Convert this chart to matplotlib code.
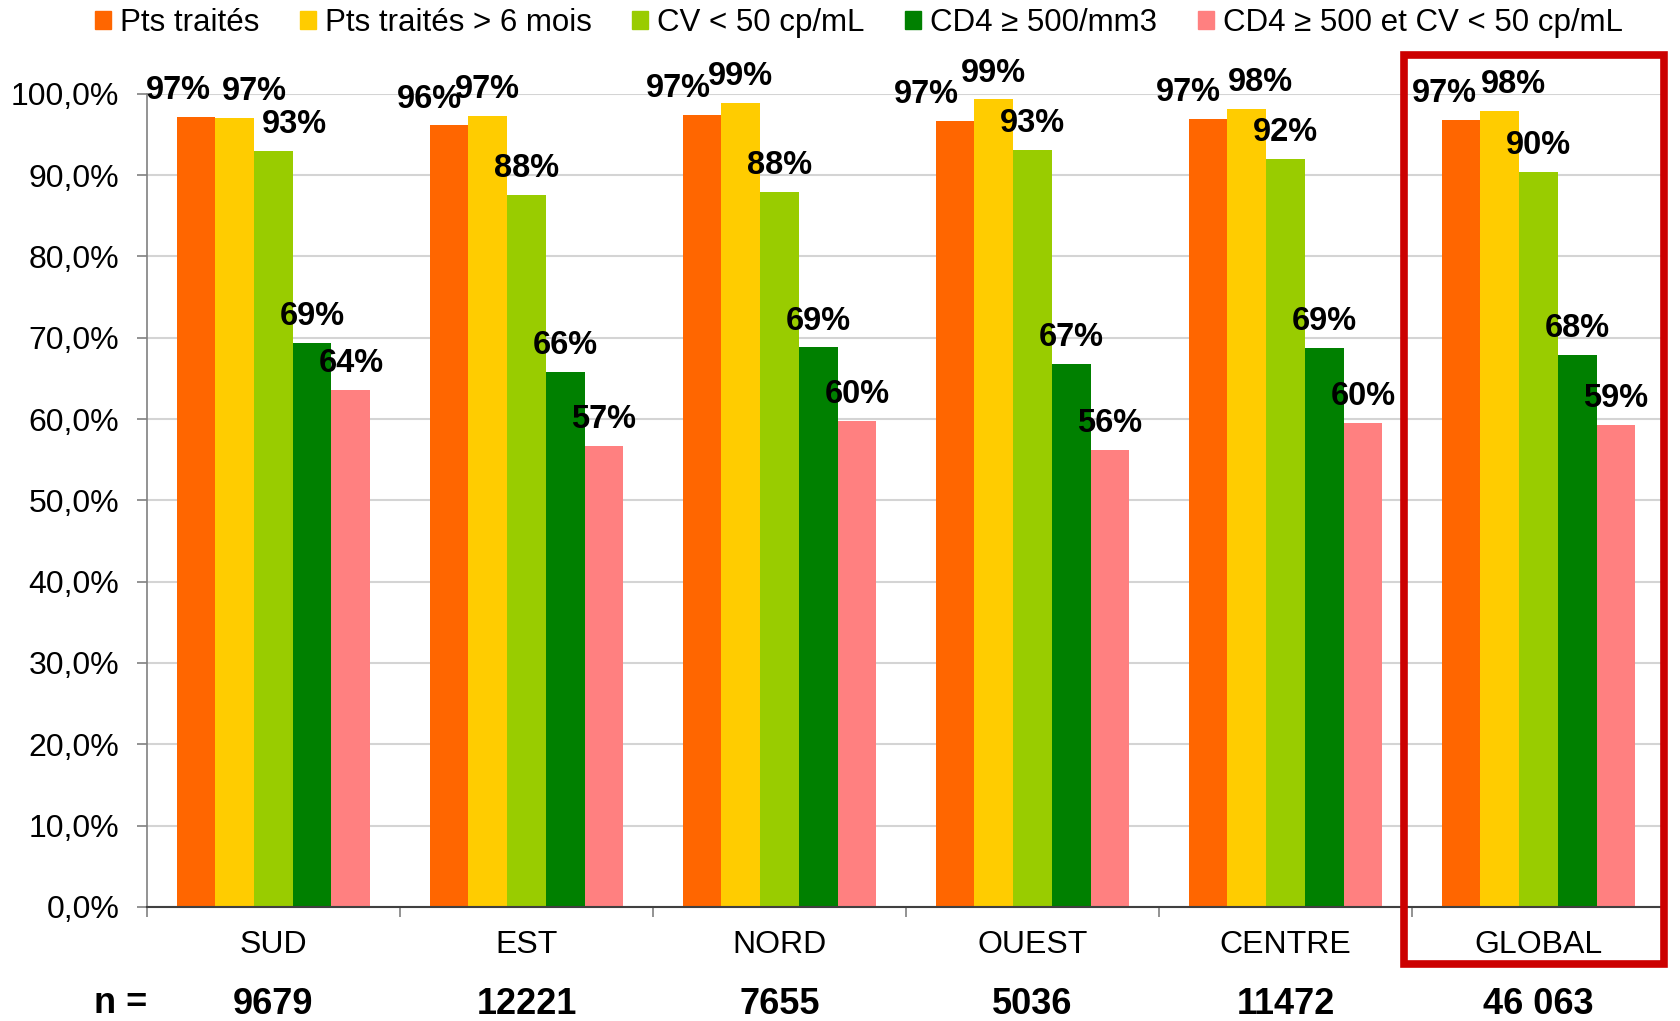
import numpy as np
import matplotlib.pyplot as plt
from matplotlib.patches import Patch, Rectangle
from matplotlib.ticker import FuncFormatter

plt.rcParams['font.family'] = ['Liberation Sans', 'DejaVu Sans']

# données
regions = ['SUD', 'EST', 'NORD', 'OUEST', 'CENTRE', 'GLOBAL']
effectifs = ['9679', '12221', '7655', '5036', '11472', '46 063']
series = ['Pts traités', 'Pts traités > 6 mois', 'CV < 50 cp/mL',
          'CD4 ≥ 500/mm3', 'CD4 ≥ 500 et CV < 50 cp/mL']
pts_traites = [97.1, 96.1, 97.4, 96.7, 96.9, 96.8]
pts_6mois = [97.0, 97.3, 98.9, 99.3, 98.1, 97.9]
cv_50 = [93.0, 87.6, 87.9, 93.1, 92.0, 90.4]
cd4_500 = [69.3, 65.8, 68.8, 66.8, 68.7, 67.9]
cd4_cv = [63.6, 56.7, 59.8, 56.2, 59.5, 59.3]

couleurs = ['#FF6600', '#FFCC00', '#99CC00', '#008000', '#FF8080']

# décalage horizontal des étiquettes (points), par série puis par région
decal_x = [[-13, -14, -17, -21, -14, -12],
           [14, 0, 0, 0, 10, 10],
           [15, 0, 0, 0, 0, 0],
           [0, 0, 0, 0, 0, 0],
           [0, 0, 0, 0, 0, 0]]

valeurs = [pts_traites, pts_6mois, cv_50, cd4_500, cd4_cv]

fig = plt.figure(figsize=(16.81, 10.21), dpi=100)
ax = fig.add_axes([0.0874, 0.1117, 0.9031, 0.7965])

x = np.arange(len(regions))
largeur = 0.153
for i, (vals, c) in enumerate(zip(valeurs, couleurs)):
    pos = x + (i - 2) * largeur
    ax.bar(pos, vals, largeur, color=c, zorder=2)
    for j, v in enumerate(vals):
        ax.annotate(f'{v:.0f}%', (pos[j], v), xytext=(decal_x[i][j], 19),
                    textcoords='offset points', ha='center', va='center',
                    fontsize=23.5, fontweight='bold', annotation_clip=False, zorder=3)

ax.set_xlim(-0.5, 5.5)
ax.set_ylim(0, 100)
ax.set_yticks(np.arange(0, 101, 10))
ax.yaxis.set_major_formatter(FuncFormatter(lambda v, p: f'{v:.1f}%'.replace('.', ',')))
ax.set_xticks(np.arange(-0.5, 6, 1))
ax.set_xticklabels([])
ax.tick_params(axis='y', labelsize=23, length=7, width=1.2, color='#808080', pad=13)
ax.tick_params(axis='x', length=7, width=1.2, color='#808080')
ax.yaxis.grid(True, color='#D4D4D4', lw=1.5, zorder=0)
ax.set_axisbelow(True)
for s in ['top', 'right']:
    ax.spines[s].set_visible(False)
ax.spines['left'].set_color('#808080')
ax.spines['left'].set_linewidth(1.2)
ax.spines['bottom'].set_color('#404040')
ax.spines['bottom'].set_linewidth(1.5)

tr = ax.get_xaxis_transform()
for j, r in enumerate(regions):
    ax.text(j, -0.047, r, transform=tr, ha='center', va='center', fontsize=23)
    ax.text(j, -0.12, effectifs[j], transform=tr, ha='center', va='center',
            fontsize=26, fontweight='bold')
fig.text(0.072, 0.0176, 'n =', ha='center', va='center', fontsize=26, fontweight='bold')

# cadre rouge autour de GLOBAL
fig.add_artist(Rectangle((0.8355, 0.056), 0.1545, 0.89, transform=fig.transFigure,
                         fill=False, ec='#CC0000', lw=5.5, clip_on=False))

handles = [Patch(color=c, label=s) for c, s in zip(couleurs, series)]
fig.legend(handles=handles, loc='center', bbox_to_anchor=(0.511, 0.977), ncol=5,
           frameon=False, fontsize=22.5, handlelength=0.5, handleheight=0.5,
           handletextpad=0.3, columnspacing=1.3, borderpad=0)

fig.savefig('out.png', dpi=100)
